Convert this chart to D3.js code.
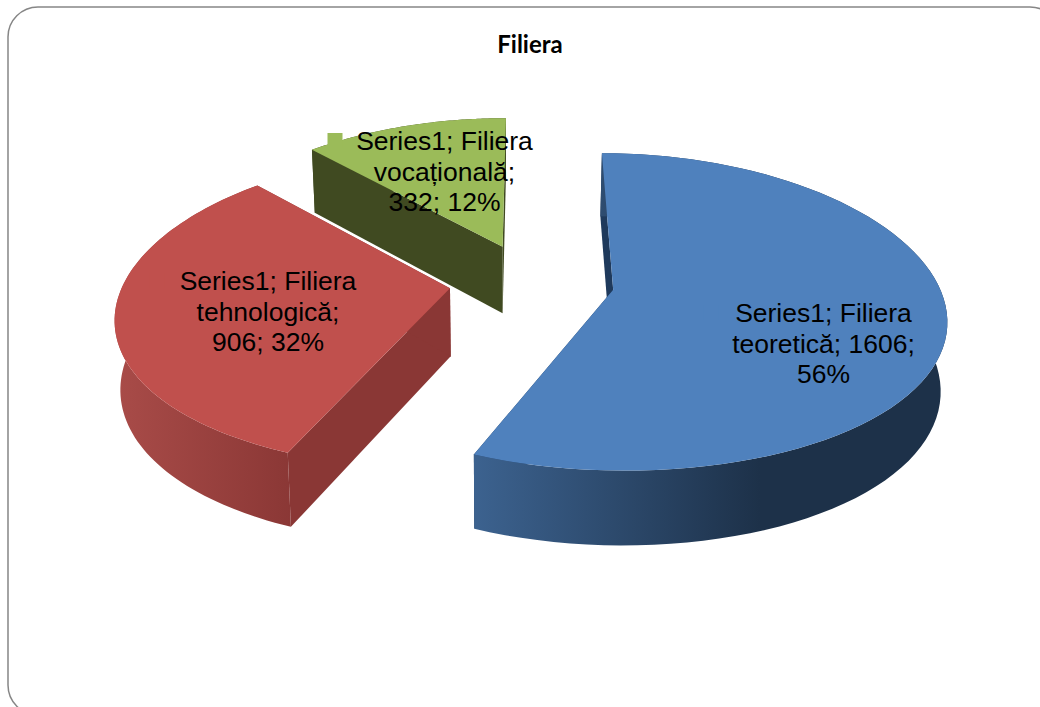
<!DOCTYPE html>
<html><head><meta charset="utf-8">
<script src="https://cdn.jsdelivr.net/npm/d3@7"></script>
<style>html,body{margin:0;padding:0;background:#fff;overflow:hidden}svg{display:block}</style>
</head><body><svg id="c" width="1040" height="707"></svg>
<script>
const chartTitle = "Filiera";
const seriesName = "Series1";
const categories = ["Filiera teoretică", "Filiera tehnologică", "Filiera vocațională"];
const values = [1606, 906, 332];
const percents = ["56%", "32%", "12%"];
const labelLines = [
  ["Series1; Filiera", "teoretică; 1606;", "56%"],
  ["Series1; Filiera", "tehnologică;", "906; 32%"],
  ["Series1; Filiera", "vocațională;", "332; 12%"]
];
const topColors = ["#4f81bd", "#c0504d", "#9bbb59"];
const cutColors = ["#1f3a5c", "#8a3735", "#404a21"];
const wallStops = [["#3c628f", "#1d3149"], ["#a84b48", "#8a3735"], ["#404a21", "#404a21"]];
const wallRanges = [[475, 760], [120, 295], [310, 505]];
const labelX = [823.5, 268, 444.5];
const labelY = [323, 291, 151];
const keyX = [711, 157, 335];
const apexNudgeX = [0.005, 0, 0];

const svg = d3.select("#c");
const cx = 531, cy = 286.5, rx = 328, ry = 155, explode = 0.25, depth = 68;
const kx = 0.14, ky = 0.11, vanishX = 500, shrink = 0.015, apexLift = 0.03;
const sx = d3.scaleLinear().domain([-1, 1]).range([cx - rx, cx + rx]);

function project(X, Y, z) {
  const s = 1 / (1 + kx * Y);
  const px = cx + (sx(X) - cx) * s;
  return [
    px + (vanishX - px) * shrink * z,
    cy - ry * Y / (1 + ky * Y) + depth * Math.pow(s, 0.6) * z
  ];
}
const line = d3.line();
const pie = d3.pie().sort(null).startAngle(0).endAngle(2 * Math.PI);
const arcs = pie(values);

svg.append("rect").attr("x", 8).attr("y", 7).attr("width", 1052).attr("height", 708)
  .attr("rx", 30).attr("fill", "#fff").attr("stroke", "#868686").attr("stroke-width", 1.5);

svg.append("text").attr("x", 530).attr("y", 53).attr("text-anchor", "middle")
  .attr("font-family", "Lato").attr("font-weight", 700).attr("font-size", 24)
  .attr("fill", "#000").text(chartTitle);

const defs = svg.append("defs");
wallStops.forEach((st, i) => {
  const g = defs.append("linearGradient").attr("id", "w" + i).attr("gradientUnits", "userSpaceOnUse")
    .attr("x1", wallRanges[i][0]).attr("x2", wallRanges[i][1]).attr("y1", 0).attr("y2", 0);
  g.append("stop").attr("offset", 0).attr("stop-color", st[0]);
  g.append("stop").attr("offset", 1).attr("stop-color", st[1]);
});

const order = [2, 0, 1];
const geom = arcs.map(a => {
  const mid = (a.startAngle + a.endAngle) / 2;
  const ox = explode * Math.sin(mid), oy = explode * Math.cos(mid);
  const n = 80;
  const rim = d3.range(n + 1).map(i => {
    const t = a.startAngle + (a.endAngle - a.startAngle) * i / n;
    return [ox + Math.sin(t), oy + Math.cos(t)];
  });
  return { ox, oy, rim };
});

order.forEach(i => {
  const { ox, oy, rim } = geom[i];
  const g = svg.append("g");
  const P = (p, z) => project(p[0], p[1], z);
  const apex = [ox + apexNudgeX[i], oy + apexLift];
  g.append("path").attr("fill", cutColors[i]).attr("d", line([P(apex, 0), P(rim[0], 0), P(rim[0], 1), P(apex, 1)]) + "Z");
  const last = rim[rim.length - 1];
  g.append("path").attr("fill", cutColors[i]).attr("d", line([P(apex, 0), P(last, 0), P(last, 1), P(apex, 1)]) + "Z");
  const wall = rim.map(p => P(p, 0)).concat(rim.slice().reverse().map(p => P(p, 1)));
  g.append("path").attr("fill", `url(#w${i})`).attr("d", line(wall) + "Z");
  const top = [P(apex, 0)].concat(rim.map(p => P(p, 0)));
  g.append("path").attr("fill", topColors[i]).attr("d", line(top) + "Z");
});

values.forEach((v, i) => {
  svg.append("rect").attr("x", keyX[i] - 7.5).attr("y", labelY[i] - 18).attr("width", 15).attr("height", 15)
    .attr("fill", topColors[i]);
  const t = svg.append("text").attr("text-anchor", "middle")
    .attr("font-family", "'Liberation Sans'").attr("font-size", 26.5).attr("fill", "#000");
  labelLines[i].forEach((l, j) => {
    t.append("tspan").attr("x", labelX[i]).attr("y", labelY[i] + j * 30.5 - 1).text(l);
  });
});
</script></body></html>
